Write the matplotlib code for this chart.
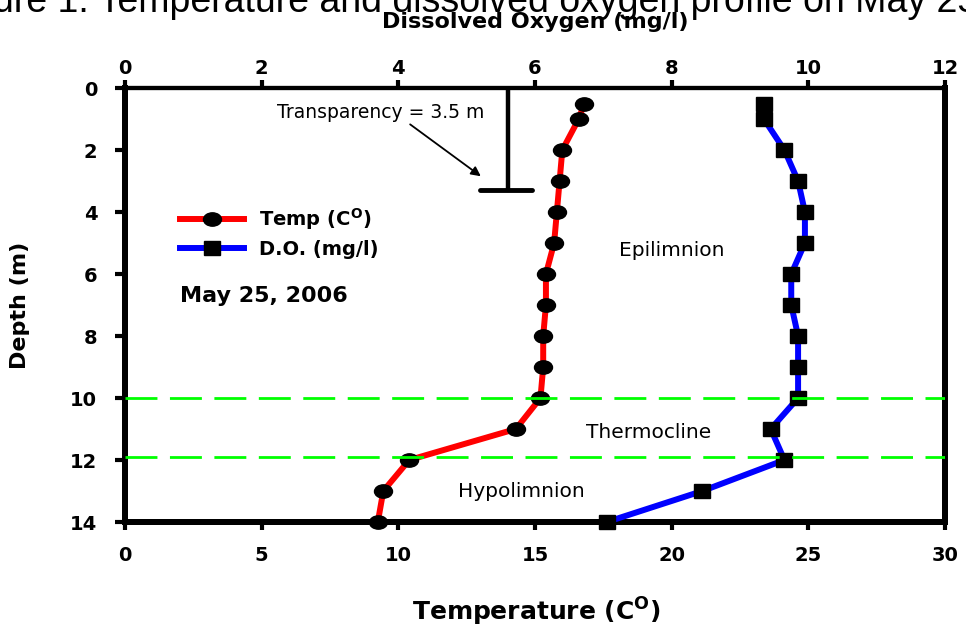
import numpy as np
import matplotlib.pyplot as plt
from matplotlib.markers import MarkerStyle
from matplotlib.transforms import Affine2D

# profile measured on May 25, 2006
depth = [0.5, 1, 2, 3, 4, 5, 6, 7, 8, 9, 10, 11, 12, 13, 14]
temp = [16.8, 16.6, 16.0, 15.9, 15.8, 15.7, 15.4, 15.4, 15.3, 15.3, 15.2, 14.3, 10.4, 9.45, 9.25]
do = [9.35, 9.35, 9.65, 9.85, 9.95, 9.95, 9.75, 9.75, 9.85, 9.85, 9.85, 9.45, 9.65, 8.45, 7.05]

layer_bounds = [10.0, 11.9]     # thermocline top / bottom (m)
secchi_depth = 3.3              # depth where the disk is drawn
temp_ticks = [0, 5, 10, 15, 20, 25, 30]
do_ticks = [0, 2, 4, 6, 8, 10, 12]
depth_ticks = [0, 2, 4, 6, 8, 10, 12, 14]

plt.rcParams['font.family'] = 'DejaVu Sans'
plt.rcParams['mathtext.fontset'] = 'dejavusans'
plt.rcParams['lines.scale_dashes'] = False

fig = plt.figure(figsize=(9.66, 6.29), dpi=100)
ax = fig.add_axes([125/966, 1-522/629, 820/966, 434/629])
ax2 = ax.twiny()

circ = MarkerStyle('o', transform=Affine2D().scale(1.35, 1.0))
sq = MarkerStyle('s', transform=Affine2D().scale(1.15, 1.0))

l1, = ax.plot(temp, depth, color='red', lw=4.3, marker=circ, ms=9.6,
              mfc='black', mec='black', clip_on=False, zorder=3)
l2, = ax2.plot(do, depth, color='blue', lw=4.3, marker=sq, ms=9.4,
               mfc='black', mec='black', clip_on=False, zorder=3)

for b in layer_bounds:
    ax2.axhline(b, color='#00ff00', lw=2, dashes=(23, 9), zorder=4)

ax.set_xlim(0, 30)
ax2.set_xlim(0, 12)
ax.set_ylim(14, 0)

ax.set_xticks(temp_ticks)
ax2.set_xticks(do_ticks)
ax.set_yticks(depth_ticks)

for a in (ax, ax2):
    for s in a.spines.values():
        s.set_linewidth(4.3)
    a.spines['top'].set_linewidth(3)
ax.tick_params(axis='x', direction='out', length=6, width=3, pad=11, labelsize=14)
ax.tick_params(axis='y', direction='out', length=7, width=3, pad=13, labelsize=14, right=False)
ax2.tick_params(axis='x', direction='out', length=6, width=3, pad=1, labelsize=14)
for lab in ax.get_xticklabels() + ax.get_yticklabels() + ax2.get_xticklabels():
    lab.set_fontweight('bold')

ax.set_xlabel(r'Temperature (C$^{\mathbf{O}}$)', fontsize=18, fontweight='bold')
ax.xaxis.set_label_coords(0.502, -0.207)
ax.xaxis.label.set_va('center')
ax2.set_xlabel('Dissolved Oxygen (mg/l)', fontsize=16, fontweight='bold')
ax2.xaxis.set_label_coords(0.5, 1.152)
ax2.xaxis.label.set_va('center')
ax.set_ylabel('Depth (m)', fontsize=16, fontweight='bold')
ax.yaxis.set_label_coords(-0.128, 0.5)
ax.yaxis.label.set_va('center')

fig.text(0.53, 1-12/629, 'Figure 1. Temperature and dissolved oxygen profile on May 25, 2006',
         fontsize=27, family='Liberation Sans', ha='center', va='baseline')

# transparency (Secchi disk)
ax.plot([14.0, 14.0], [0, secchi_depth], color='black', lw=3.2, solid_capstyle='round', zorder=2)
ax.plot([13.0, 14.9], [secchi_depth, secchi_depth], color='black', lw=3.5, solid_capstyle='round', zorder=2)
ax.text(9.37, 0.8, 'Transparency = 3.5 m', fontsize=13.5, ha='center', va='center')
ax.annotate('', xy=(13.1, 2.9), xytext=(10.35, 1.12),
            arrowprops=dict(arrowstyle='-|>', color='black', lw=1.3, mutation_scale=14))

ax.text(20.0, 5.23, 'Epilimnion', fontsize=14.5, ha='center', va='center')
ax.text(19.15, 11.1, 'Thermocline', fontsize=14.5, ha='center', va='center')
ax.text(14.5, 13.03, 'Hypolimnion', fontsize=14.5, ha='center', va='center')
ax.text(0.067, 0.52, 'May 25, 2006', transform=ax.transAxes, fontsize=16,
        fontweight='bold', ha='left', va='center')

ax.legend([l1, l2], [r'Temp (C$^{\mathbf{O}}$)', 'D.O. (mg/l)'], loc='upper left',
          bbox_to_anchor=(0.067, 0.728), frameon=False, borderpad=0, borderaxespad=0,
          handlelength=3.3, handletextpad=0.75, labelspacing=0.4,
          prop={'weight': 'bold', 'size': 14})

fig.savefig('out.png', dpi=100)
